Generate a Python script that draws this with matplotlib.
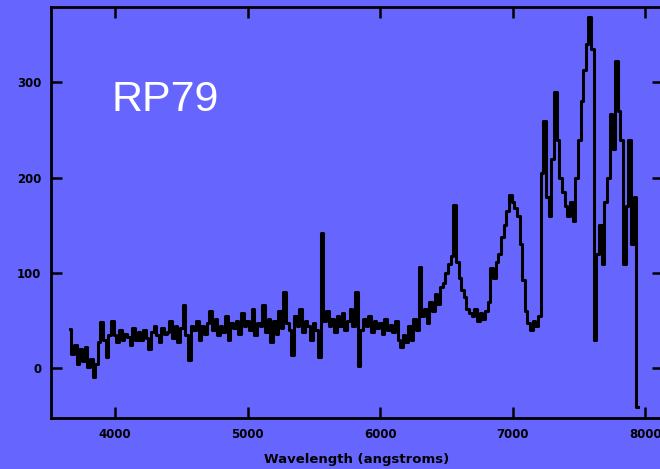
import numpy as np
import matplotlib
matplotlib.use("Agg")
import matplotlib.pyplot as plt

# Spectrum samples every 20 Angstrom starting at 3660 A
wl_start = 3660
wl_step = 20
flux = [
    41, 15, 25, 5, 20, 8, 22, 2, 10, -9, 5, 28, 49, 30, 12, 35, 50,
    35, 28, 40, 30, 36,
    33, 25, 42, 30, 38,
    30, 40, 32, 20, 38,
    45, 35, 28, 42, 36,
    38, 50, 32, 44, 28,
    42, 66, 35, 9, 45,
    40, 50, 30, 44, 36,
    48, 60, 40, 52, 35,
    45, 38, 55, 30, 48,
    42, 50, 36, 58, 44,
    50, 40, 62, 35, 48,
    45, 66, 38, 52, 28,
    50, 36, 60, 42, 80,
    48, 40, 14, 55, 45,
    62, 38, 50, 44, 30,
    48, 40, 12, 142, 50,
    60, 45, 52, 38, 55,
    44, 58, 40, 50, 62,
    45, 80, 3, 40, 52,
    44, 55, 38, 50, 42,
    48, 36, 52, 40, 46,
    38, 50, 30, 22, 35,
    28, 45, 30, 52, 40,
    106, 55, 62, 48, 70,
    60, 78, 68, 85, 90,
    100, 110, 118, 171, 112,
    95, 82, 75, 62, 58,
    55, 62, 50, 58, 52,
    60, 70, 105, 95, 112,
    120, 138, 150, 165, 182,
    175, 168, 160, 130, 93,
    60, 48, 40, 50, 45,
    55, 205, 259, 180, 160,
    220, 290, 240, 200, 185,
    170, 160, 175, 155, 200,
    240, 280, 313, 340, 369,
    335, 30, 120, 150, 110,
    175, 200, 267, 230, 322,
    270, 240, 110, 170, 240,
    130, 180, -40,
]
wavelength = wl_start + wl_step * np.arange(len(flux))

xticks = [4000, 5000, 6000, 7000, 8000]
xtick_labels = ["4000", "5000", "6000", "7000", "8000"]
yticks = [0, 100, 200, 300]
ytick_labels = ["0", "100", "200", "300"]
object_name = "RP79"

bg = "#6666ff"
fig = plt.figure(figsize=(6.6, 4.69), dpi=100, facecolor=bg)
ax = fig.add_axes([51/660, 51/469, 612/660, 411/469], facecolor=bg)

ax.plot(wavelength, flux, color="black", lw=2.2, drawstyle="steps-mid")

ax.set_xlim(3517, 8132)
ax.set_ylim(-52, 379)
ax.set_xticks(xticks)
ax.set_xticklabels(xtick_labels)
ax.set_yticks(yticks)
ax.set_yticklabels(ytick_labels)
ax.tick_params(direction="in", length=8, width=1.8, top=True, right=True,
               labelsize=8.5, pad=7, colors="black")
for lab in ax.get_xticklabels() + ax.get_yticklabels():
    lab.set_fontweight("bold")
for s in ax.spines.values():
    s.set_linewidth(2)
ax.set_xlabel("Wavelength (angstroms)", fontsize=9.5, fontweight="bold", labelpad=9)

ax.text(3975, 270, object_name, color="white", fontsize=31,
        family="Liberation Sans", ha="left", va="baseline")

fig.savefig("out.png", dpi=100, facecolor=bg)
